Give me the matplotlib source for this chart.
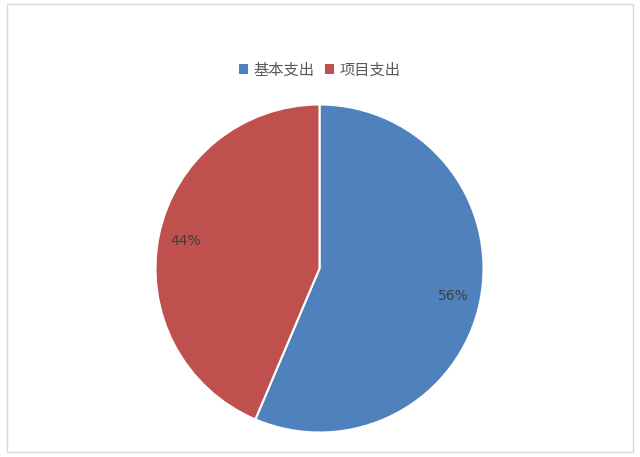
import matplotlib.pyplot as plt
from matplotlib.patches import Rectangle, Patch

plt.rcParams['font.family'] = ['Noto Sans CJK SC', 'DejaVu Sans']

# data (shares estimated from the slice boundary; labels round to 56% / 44%)
labels = ['基本支出', '项目支出']
shares = [56.4, 43.6]
colors = ['#4F81BD', '#C0504D']

fig = plt.figure(figsize=(6.4, 4.57), dpi=100)

# light frame round the chart area
fig.patches.append(Rectangle((7 / 640, 5 / 457), 626 / 640, 448 / 457,
                             transform=fig.transFigure, fill=False,
                             edgecolor='#d9d9d9', linewidth=1.0))

# pie axes: center (319.5, 268) px, radius ~164 px
cx, cy, r = 319.5, 268.5, 164
ax = fig.add_axes([(cx - r) / 640, (457 - cy - r) / 457, 2 * r / 640, 2 * r / 457])
wedges, texts, autotexts = ax.pie(
    shares, colors=colors, startangle=90, counterclock=False,
    autopct='%.0f%%', pctdistance=0.83,
    wedgeprops=dict(edgecolor='white', linewidth=1.5),
    textprops=dict(color='#404040', fontsize=10, family='DejaVu Sans'))
ax.set_xlim(-1.0, 1.0)
ax.set_ylim(-1.0, 1.0)
ax.axis('off')

handles = [Patch(facecolor=c, edgecolor='none') for c in colors]
fig.legend(handles, labels, loc='center', bbox_to_anchor=(0.5, 1 - 70 / 457),
           ncol=2, frameon=False, fontsize=11, handlelength=0.55, handleheight=0.55,
           handletextpad=0.4, columnspacing=0.7, labelcolor='#595959')

plt.savefig('out.png', dpi=100)
